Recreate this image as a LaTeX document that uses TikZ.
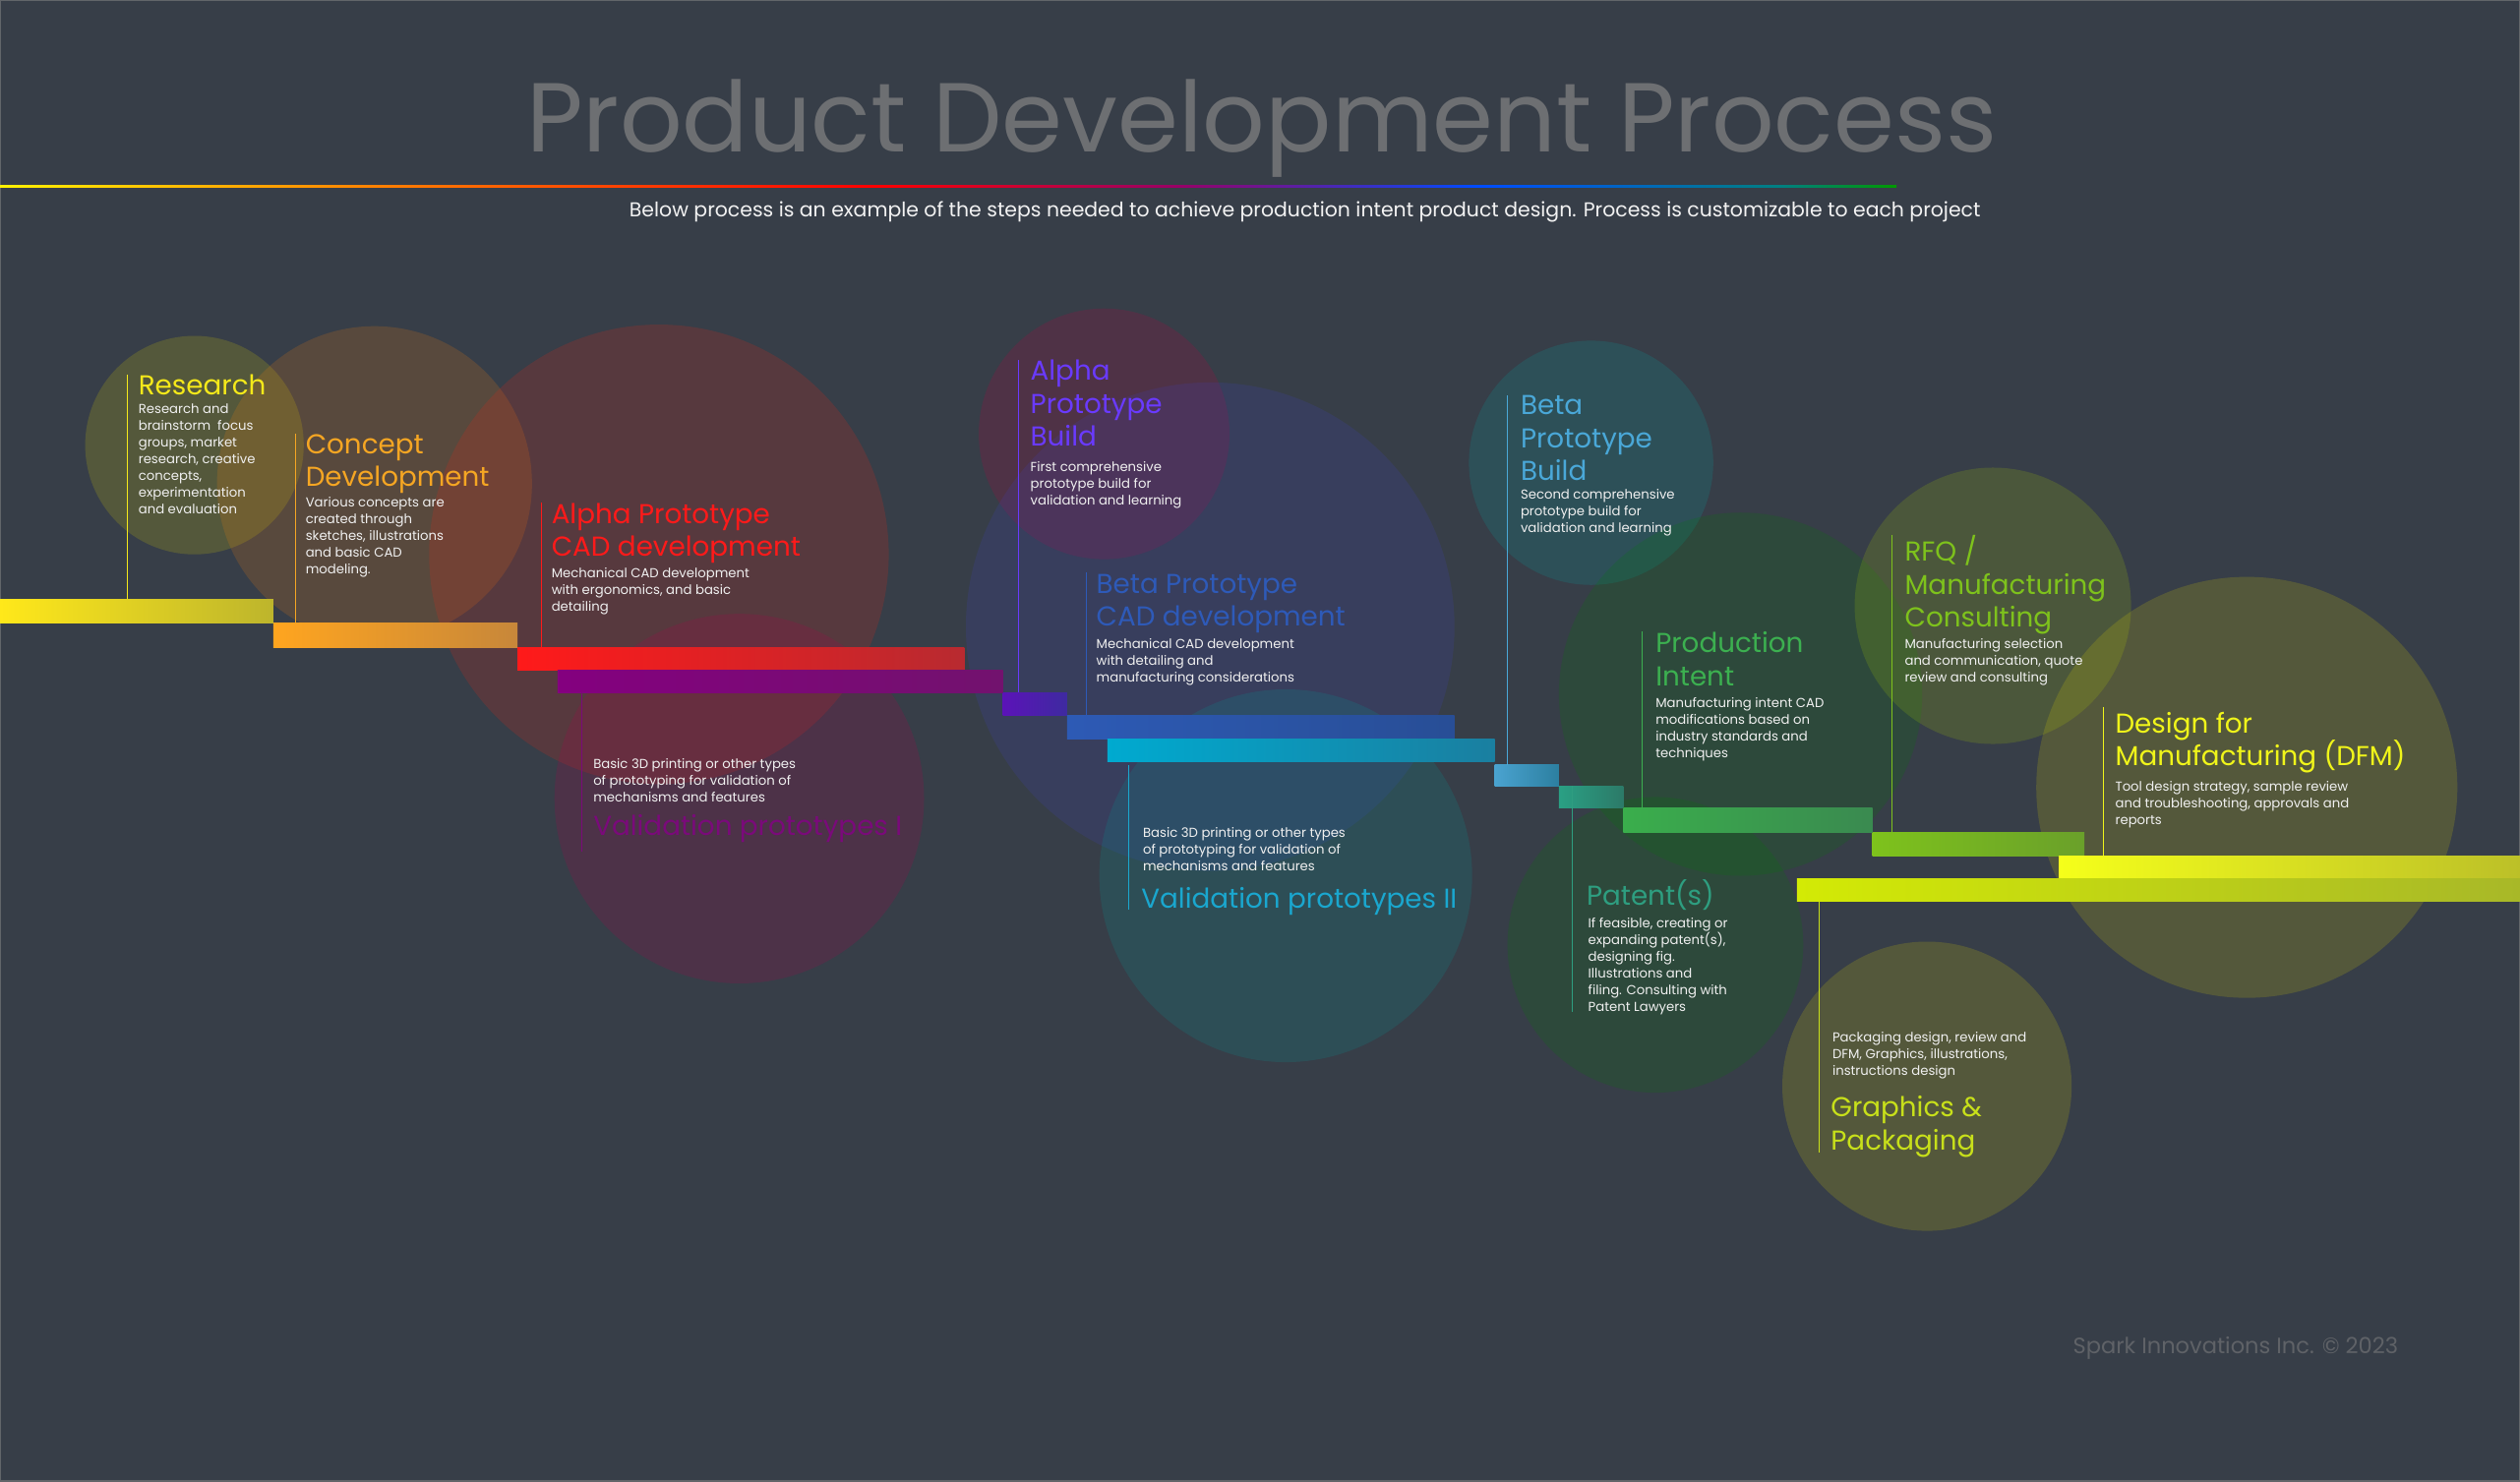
\documentclass[tikz,border=0pt]{standalone}
\usepackage{fontspec}
\setmainfont{Poppins}
\newfontfamily\titlefont{Poppins}
\definecolor{bg}{HTML}{373E48}
\definecolor{a1}{HTML}{FFE81A}\definecolor{a2}{HTML}{BDB52C}
\definecolor{b1}{HTML}{FFA51F}\definecolor{b2}{HTML}{C7873A}
\definecolor{c1}{HTML}{FF1A1A}\definecolor{c2}{HTML}{B82A30}
\definecolor{d1}{HTML}{84007F}\definecolor{d2}{HTML}{72126E}
\definecolor{e1}{HTML}{5B13B8}\definecolor{e2}{HTML}{3E2AA0}
\definecolor{f1}{HTML}{2D5AB5}\definecolor{f2}{HTML}{284E96}
\definecolor{g1}{HTML}{00AAD0}\definecolor{g2}{HTML}{1A7FA0}
\definecolor{h1}{HTML}{4AA3D0}\definecolor{h2}{HTML}{2C7FA0}
\definecolor{i1}{HTML}{2AA084}\definecolor{i2}{HTML}{2C7A68}
\definecolor{j1}{HTML}{3AAE4C}\definecolor{j2}{HTML}{3A8A50}
\definecolor{k1}{HTML}{7EC21C}\definecolor{k2}{HTML}{6AA02A}
\definecolor{l1}{HTML}{F5FF1A}\definecolor{l2}{HTML}{BCC028}
\definecolor{m1}{HTML}{D3EA05}\definecolor{m2}{HTML}{A8B828}
\definecolor{tRes}{HTML}{F5E91A}
\definecolor{tCon}{HTML}{F5A623}
\definecolor{tRed}{HTML}{FF1A1A}
\definecolor{tPur}{HTML}{7A0A7A}
\definecolor{tVio}{HTML}{6A3AFF}
\definecolor{tBlu}{HTML}{2E5AB8}
\definecolor{tCya}{HTML}{1AA7CF}
\definecolor{tBb}{HTML}{4AA8D8}
\definecolor{tGrn}{HTML}{3CB050}
\definecolor{tPat}{HTML}{2E9E80}
\definecolor{tRfq}{HTML}{7EC21C}
\definecolor{tDfm}{HTML}{F0F51A}
\definecolor{tGra}{HTML}{C8E01A}
\pgfdeclarehorizontalshading{rainbow}{100bp}{color(0bp)=(yellow); color(25bp)=(yellow!90!orange); color(35bp)=(orange); color(48bp)=(red); color(56bp)=(violet!80!red); color(64bp)=(blue!70!cyan); color(72bp)=(teal); color(75bp)=(green!60!black); color(100bp)=(green!60!black)}
\tikzset{
  bub/.style={fill=#1, fill opacity=0.18, draw=none},
  bar/.style 2 args={left color=#1, right color=#2, draw=none},
  vline/.style={draw=#1, line width=0.6pt},
  head/.style={anchor=north west, inner sep=0pt, align=left, text=#1, font=\fontsize{17}{20.5}\selectfont, yshift=-3pt},
  body/.style={anchor=north west, inner sep=0pt, align=left, text=white!88!gray, font=\fontsize{8.1}{10.4}\selectfont, yshift=-2pt},
}
\begin{document}
\begin{tikzpicture}[x=1pt,y=-1pt]
\fill[bg] (0,0) rectangle (1568,922);
\useasboundingbox (0,0) rectangle (1568,922);
\draw[gray!60!bg, line width=0.8pt] (0.4,0.4) rectangle (1567.6,921.6);
% title
\node[font=\titlefont\fontsize{61}{62}\selectfont, text=gray!75!bg, inner sep=0pt] (title) at (785,80) {Product Development Process};
\shade[shading=rainbow] (0,115.2) rectangle (1180,116.6);
\node[font=\fontsize{12.5}{14}\selectfont, text=white!90!gray, inner sep=0pt] (sub) at (812,132) {Below process is an example of the steps needed to achieve production intent product design. Process is customizable to each project};
\node[font=\fontsize{13.8}{15}\selectfont, text=gray!55!bg, inner sep=0pt] (foot) at (1391,839) {Spark Innovations Inc. © 2023};
% bubbles
\fill[bub={yellow!70!olive}] (121,277) circle (68);
\fill[bub={orange!80!brown}] (233,301) circle (98);
\fill[bub={red!70!brown}] (410,345) circle (143);
\fill[bub={violet!60!red}] (460,497) circle (115);
\fill[bub={violet!50!red}] (687,270) circle (78);
\fill[bub={blue!50!gray}] (753,390) circle (152);
\fill[bub={teal!80!cyan}] (800,545) circle (116);
\fill[bub={teal!70!cyan}] (990,288) circle (76);
\fill[bub={green!50!black}] (1083,432) circle (113);
\fill[bub={green!50!black}] (1030,588) circle (92);
\fill[bub={lime!60!olive}] (1240,377) circle (86);
\fill[bub={yellow!70!olive}] (1398,490) circle (131);
\fill[bub={yellow!70!olive}] (1199,676) circle (90);
% bars
\shade[bar={a1}{a2}] (0,373) rectangle (170,388);
\shade[bar={b1}{b2}] (170,388) rectangle (322,403);
\shade[bar={c1}{c2}] (322,403) rectangle (600,417);
\shade[bar={d1}{d2}] (347,417) rectangle (624,431);
\shade[bar={e1}{e2}] (624,431) rectangle (664,445);
\shade[bar={f1}{f2}] (664,445) rectangle (905,460);
\shade[bar={g1}{g2}] (689,460) rectangle (930,474);
\shade[bar={h1}{h2}] (930,476) rectangle (970,489);
\shade[bar={i1}{i2}] (970,489) rectangle (1010,503);
\shade[bar={j1}{j2}] (1010,503) rectangle (1165,518);
\shade[bar={k1}{k2}] (1165,518) rectangle (1297,533);
\shade[bar={l1}{l2}] (1281,533) rectangle (1568,547);
\shade[bar={m1}{m2}] (1118,547) rectangle (1568,561);
% Research
\draw[vline=tRes] (79,233) -- (79,373);
\node[head=tRes] (n1) at (86,230) {Research};
\node[body] (p1) at (86,249) {Research and\\brainstorm\ \ focus\\groups, market\\research, creative\\concepts,\\experimentation\\and evaluation};
% Concept
\draw[vline=tCon] (184,270) -- (184,388);
\node[head=tCon] (n2) at (190,267) {Concept\\Development};
\node[body] (p2) at (190,307) {Various concepts are\\created through\\sketches, illustrations\\and basic CAD\\modeling.};
% Alpha CAD
\draw[vline=tRed] (337,313) -- (337,403);
\node[head=tRed] (n3) at (343,310) {Alpha Prototype\\CAD development};
\node[body] (p3) at (343,351) {Mechanical CAD development\\with ergonomics, and basic\\detailing};
% Validation I
\draw[vline=tPur] (362,431) -- (362,530);
\node[body] (p4) at (369,470) {Basic 3D printing or other types\\of prototyping for validation of\\mechanisms and features};
\node[head=tPur] (n4) at (369,504) {Validation prototypes I};
% Alpha Build
\draw[vline=tVio] (634,224) -- (634,431);
\node[head=tVio] (n5) at (641,221) {Alpha\\Prototype\\Build};
\node[body] (p5) at (641,285) {First comprehensive\\prototype build for\\validation and learning};
% Beta CAD
\draw[vline=tBlu] (676,356) -- (676,445);
\node[head=tBlu] (n6) at (682,354) {Beta Prototype\\CAD development};
\node[body] (p6) at (682,395) {Mechanical CAD development\\with detailing and\\manufacturing considerations};
% Validation II
\draw[vline=tCya] (702,476) -- (702,566);
\node[body] (p7) at (711,513) {Basic 3D printing or other types\\of prototyping for validation of\\mechanisms and features};
\node[head=tCya] (n7) at (710,549) {Validation prototypes II};
% Beta Build
\draw[vline=tBb] (938,246) -- (938,476);
\node[head=tBb] (n8) at (946,243) {Beta\\Prototype\\Build};
\node[body] (p8) at (946,302) {Second comprehensive\\prototype build for\\validation and learning};
% Production Intent
\draw[vline=tGrn] (1022,393) -- (1022,503);
\node[head=tGrn] (n9) at (1030,390) {Production\\Intent};
\node[body] (p9) at (1030,432) {Manufacturing intent CAD\\modifications based on\\industry standards and\\techniques};
% Patent
\draw[vline=tPat] (978,489) -- (978,630);
\node[head=tPat] (n10) at (987,544) {Patent(s)};
\node[body] (p10) at (988,569) {If feasible, creating or\\expanding patent(s),\\designing fig.\\Illustrations and\\filing. Consulting with\\Patent Lawyers};
% RFQ
\draw[vline=tRfq] (1177,333) -- (1177,518);
\node[head=tRfq] (n11) at (1185,330) {RFQ /\\Manufacturing\\Consulting};
\node[body] (p11) at (1185,395) {Manufacturing selection\\and communication, quote\\review and consulting};
% DFM
\draw[vline=tDfm] (1309,440) -- (1309,533);
\node[head=tDfm] (n12) at (1316,440) {Design for\\Manufacturing (DFM)};
\node[body] (p12) at (1316,484) {Tool design strategy, sample review\\and troubleshooting, approvals and\\reports};
% Graphics
\draw[vline=tGra] (1132,561) -- (1132,717);
\node[body] (p13) at (1140,640) {Packaging design, review and\\DFM, Graphics, illustrations,\\instructions design};
\node[head=tGra] (n13) at (1139,679) {Graphics \&\\Packaging};
\end{tikzpicture}
\end{document}
